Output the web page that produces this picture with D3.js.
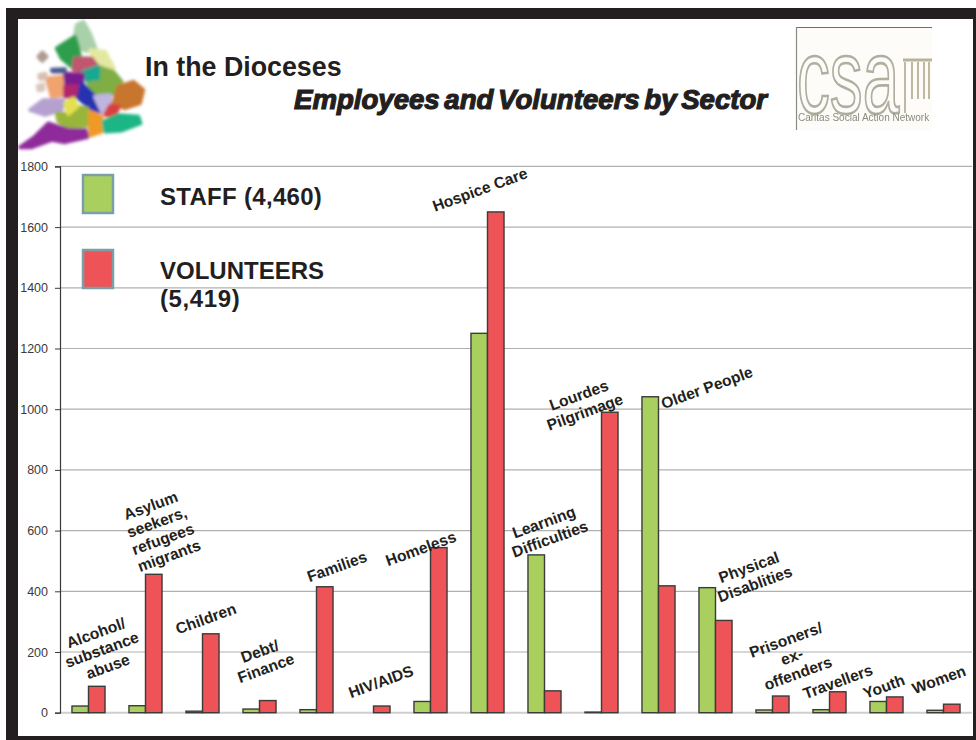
<!DOCTYPE html>
<html>
<head>
<meta charset="utf-8">
<title>In the Dioceses: Employees and Volunteers by Sector</title>
<script src="https://cdn.jsdelivr.net/npm/d3@7"></script>
<style>
  html, body { margin: 0; padding: 0; background: #fff; }
  svg { display: block; font-family: "Liberation Sans", Arial, sans-serif; }
</style>
</head>
<body>
<svg id="chart" width="976" height="740"></svg>
<script>
// Sector names, one entry per line of the label
const sectors = [
  ["Alcohol/", "substance", "abuse"],
  ["Asylum", "seekers,", "refugees", "migrants"],
  ["Children"],
  ["Debt/", "Finance"],
  ["Families"],
  ["HIV/AIDS"],
  ["Homeless"],
  ["Hospice Care"],
  ["Learning", "Difficulties"],
  ["Lourdes", "Pilgrimage"],
  ["Older People"],
  ["Physical", "Disablities"],
  ["Prisoners/", "ex-", "offenders"],
  ["Travellers"],
  ["Youth"],
  ["Women"]
];
const staff = [22, 23, 5, 12, 10, 0, 37, 1250, 520, 2, 1041, 412, 9, 10, 37, 8];
const volunteers = [87, 456, 260, 40, 415, 22, 544, 1650, 72, 990, 418, 304, 55, 69, 52, 28];
const yTicks = [0, 200, 400, 600, 800, 1000, 1200, 1400, 1600, 1800];
const legendItems = [
  { name: "STAFF (4,460)", lines: ["STAFF (4,460)"], color: "#a9d05f" },
  { name: "VOLUNTEERS (5,419)", lines: ["VOLUNTEERS", "(5,419)"], color: "#ee5357" }
];

// Centre of each slanted sector label
const labelCentres = [
  [102, 650], [160, 531], [206, 619], [263, 660], [337, 567], [381, 682],
  [421, 549], [480, 190], [547, 531], [582, 404], [707, 388], [752, 576],
  [792, 657], [838, 682], [884, 687], [939, 680]
];

// Diocese map emblem: outlines in a 420-unit square, with their fill colours
const mapRegions = [
  ["#a8d0aa", "185,30 205,20 225,55 242,100 215,108 190,100 180,60"],
  ["#2f9e4e", "125,100 180,65 190,100 195,125 170,155 140,130"],
  ["#e3e8a0", "225,105 270,110 297,160 290,172 245,150"],
  ["#c0566f", "180,130 230,130 245,150 205,172 175,165"],
  ["#7fae44", "250,155 295,170 320,200 290,240 235,240 215,195 250,190"],
  ["#18a890", "205,170 250,155 250,190 215,195"],
  ["#f0a36e", "95,190 150,185 150,240 110,245"],
  ["#7a1f8f", "150,175 205,180 200,215 155,225"],
  ["#b0266e", "150,215 192,215 190,245 150,245"],
  ["#2733b0", "200,205 240,245 262,292 230,282 190,250 195,225"],
  ["#b5a0d0", "45,285 85,255 145,255 140,285 90,300"],
  ["#c0b5e0", "240,245 285,240 287,285 262,292"],
  ["#c8752f", "310,215 355,200 385,225 375,265 330,280 295,265"],
  ["#d84040", "285,272 312,275 300,302 270,300"],
  ["#9ab53a", "125,295 160,297 187,275 217,280 217,332 160,337 130,320"],
  ["#e4e050", "150,265 175,250 187,275 160,297"],
  ["#f09a28", "225,290 260,305 260,350 225,362"],
  ["#1fb585", "265,320 310,300 370,305 377,325 320,347 270,350"],
  ["#8f2a9a", "15,397 60,365 100,325 160,345 212,345 217,367 150,382 110,375 50,397"],
  ["#b09a90", "70,125 82,112 95,125 82,138"],
  ["#d8c0b0", "72,180 92,176 92,190 75,192"],
  ["#d8c8c0", "68,212 85,208 85,224 70,226"],
  ["#4a5a90", "110,164 150,162 150,170 112,170"]
];

const svg = d3.select("#chart");
const width = 976, height = 740;
const margin = { left: 60, right: 4, top: 166.4, bottom: 27.3 };

const x = d3.scaleBand()
  .domain(d3.range(sectors.length))
  .range([margin.left, width - margin.right])
  .paddingInner(0.42)
  .paddingOuter(0.21);
const series = d3.scaleBand().domain([0, 1]).range([0, x.bandwidth()]);
const y = d3.scaleLinear().domain([0, 1800]).range([height - margin.bottom, margin.top]);

const defs = svg.append("defs");
// The emblem group is drawn at one-third scale, so this deviation is in its own units
defs.append("filter").attr("id", "soft").attr("x", "-10%").attr("y", "-10%")
  .attr("width", "120%").attr("height", "120%")
  .append("feGaussianBlur").attr("stdDeviation", 4.5);
defs.append("filter").attr("id", "softLogo")
  .append("feGaussianBlur").attr("stdDeviation", 0.6);

// Horizontal gridlines
svg.append("g")
  .selectAll("line").data(yTicks).join("line")
  .attr("x1", margin.left).attr("x2", width - margin.right)
  .attr("y1", d => y(d)).attr("y2", d => y(d))
  .attr("stroke", d => d === 0 ? "#cfcfcf" : "#b0b0b0")
  .attr("stroke-width", d => d === 0 ? 2 : 1.2);

// Value axis
const axis = svg.append("g")
  .attr("transform", `translate(${margin.left},0)`)
  .call(d3.axisLeft(y).tickValues(yTicks).tickSize(5).tickPadding(7).tickFormat(d3.format("d")));
axis.select(".domain").attr("stroke", "#3a3a3a").attr("stroke-width", 1.2);
axis.selectAll(".tick line").attr("stroke", "#3a3a3a").attr("stroke-width", 1);
axis.selectAll(".tick text")
  .attr("font-family", "'Liberation Sans', Arial, sans-serif")
  .attr("font-size", 12.5).attr("fill", "#3d3b3c");

// Paired bars for each sector
const barGroups = svg.append("g").selectAll("g").data(sectors).join("g")
  .attr("transform", (d, i) => `translate(${x(i)},0)`);
barGroups.selectAll("rect")
  .data((d, i) => [
    { key: 0, value: staff[i], color: legendItems[0].color },
    { key: 1, value: volunteers[i], color: legendItems[1].color }
  ].filter(b => b.value > 0))
  .join("rect")
  .attr("x", d => series(d.key))
  .attr("y", d => y(d.value))
  .attr("width", series.bandwidth())
  .attr("height", d => y(0) - y(d.value))
  .attr("fill", d => d.color)
  .attr("stroke", "#3b3b38")
  .attr("stroke-width", 1.4);

// Slanted sector labels
const lineHeight = 17.8;
svg.append("g").selectAll("text").data(sectors).join("text")
  .attr("transform", (d, i) => `translate(${labelCentres[i][0]},${labelCentres[i][1]}) rotate(-20)`)
  .attr("text-anchor", "middle")
  .attr("font-size", 15.6).attr("font-weight", "bold").attr("fill", "#231f20")
  .selectAll("tspan").data(d => d.map((t, j) => ({ t, dy: (j - (d.length - 1) / 2) * lineHeight + 5 })))
  .join("tspan")
  .attr("x", 0).attr("y", d => d.dy)
  .text(d => d.t);

// Legend
const legend = svg.append("g");
const swatchTops = [175, 250];
const legendBaselines = [[205], [279, 307]];
legendItems.forEach((item, i) => {
  legend.append("rect")
    .attr("x", 83).attr("y", swatchTops[i]).attr("width", 30).attr("height", 38)
    .attr("fill", item.color).attr("stroke", "#7b9fa6").attr("stroke-width", 2.5);
  item.lines.forEach((line, j) => {
    legend.append("text")
      .attr("x", 160).attr("y", legendBaselines[i][j])
      .attr("font-size", 24)
      .attr("letter-spacing", /\d/.test(line) ? (line.length > 10 ? 0.3 : 0.6) : 0)
      .attr("font-weight", "bold").attr("fill", "#231f20")
      .text(line);
  });
});

// Titles
svg.append("text").attr("x", 145).attr("y", 76)
  .attr("font-size", 26.8).attr("font-weight", "bold").attr("fill", "#231f20")
  .text("In the Dioceses");
svg.append("text").attr("x", 294).attr("y", 109)
  .attr("font-size", 27.6).attr("font-weight", "bold").attr("font-style", "italic")
  .attr("word-spacing", -3).attr("letter-spacing", 0)
  .attr("fill", "#231f20").attr("stroke", "#231f20").attr("stroke-width", 1.2)
  .text("Employees and Volunteers by Sector");

// Diocese map emblem
svg.append("g")
  .attr("transform", "translate(15,15) scale(0.3333)")
  .attr("filter", "url(#soft)")
  .selectAll("polygon").data(mapRegions).join("polygon")
  .attr("points", d => d[1])
  .attr("fill", d => d[0])
  .attr("stroke", d => d[0])
  .attr("stroke-width", 11)
  .attr("stroke-linejoin", "round");

// Network logo
const logo = svg.append("g");
logo.append("rect").attr("x", 796).attr("y", 27).attr("width", 136).attr("height", 103).attr("fill", "#fdfcf8");
logo.append("line").attr("x1", 796).attr("x2", 932).attr("y1", 27.5).attr("y2", 27.5).attr("stroke", "#6e6e68").attr("stroke-width", 1);
logo.append("line").attr("x1", 796.5).attr("x2", 796.5).attr("y1", 27).attr("y2", 130).attr("stroke", "#8a8a84").attr("stroke-width", 1.2);
const logoMark = logo.append("g").attr("filter", "url(#softLogo)");
logoMark.append("text")
  .attr("transform", "translate(797,113) scale(0.62,1)")
  .attr("font-size", 106).attr("fill", "none").attr("stroke", "#b0ae9f").attr("stroke-width", 2.6)
  .text("csa");
logoMark.append("g").selectAll("line").data([905, 912, 918, 924, 929]).join("line")
  .attr("x1", d => d).attr("x2", d => d)
  .attr("y1", 62).attr("y2", d => d < 910 ? 113 : 99)
  .attr("stroke", "#b8b29a").attr("stroke-width", 1.8);
logoMark.append("line").attr("x1", 903).attr("x2", 932).attr("y1", 60).attr("y2", 60)
  .attr("stroke", "#b8b29a").attr("stroke-width", 3);
logoMark.append("text").attr("x", 798).attr("y", 121)
  .attr("font-size", 10).attr("fill", "#8c8a80")
  .text("Caritas Social Action Network");

// Heavy outer frame
const frame = svg.append("g").attr("fill", "#231f20");
frame.append("rect").attr("x", 6).attr("y", 8).attr("width", 970).attr("height", 11);
frame.append("rect").attr("x", 6).attr("y", 8).attr("width", 12).attr("height", 732);
frame.append("rect").attr("x", 6).attr("y", 736).attr("width", 970).attr("height", 4);
frame.append("rect").attr("x", 973).attr("y", 8).attr("width", 3).attr("height", 732);
</script>
</body>
</html>
